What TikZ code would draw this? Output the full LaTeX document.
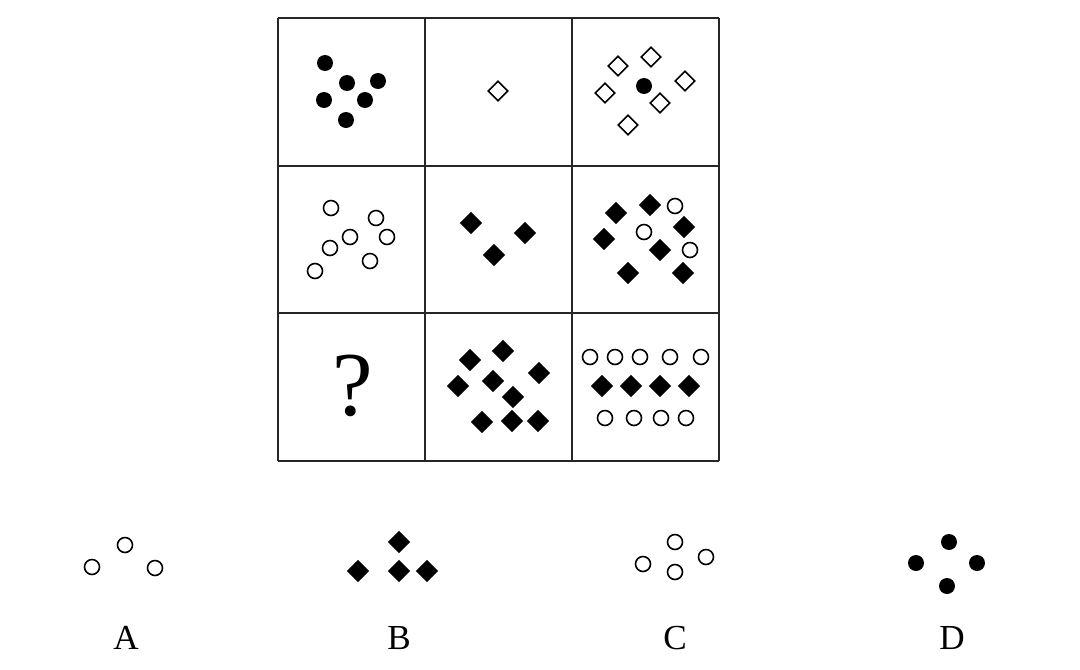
\documentclass[tikz,border=0pt]{standalone}
\usepackage{fontspec}
\setmainfont{Liberation Serif}
\usetikzlibrary{shapes.geometric}

\tikzset{
  dot/.style={circle,fill=black,inner sep=0pt,minimum size=0.32cm},
  ring/.style={circle,draw=black,line width=0.9pt,inner sep=0pt,minimum size=0.3cm},
  blk/.style={diamond,fill=black,inner sep=0pt,minimum size=0.45cm},
  hollow/.style={diamond,draw=black,line width=0.9pt,inner sep=0pt,minimum size=0.4cm},
  choice/.style={font=\fontsize{20}{20}\selectfont}
}

\begin{document}
\begin{tikzpicture}[x=0.02cm,y=-0.02cm]
\useasboundingbox (0,0) rectangle (1080,670);
% the 3x3 board
\foreach \x in {278,425,572,719} \draw[line width=1.1pt,black!85] (\x,18) -- (\x,461);
\foreach \y in {18,166,313,461} \draw[line width=1.1pt,black!85] (278,\y) -- (719,\y);

% row 1
\foreach \p [count=\i] in {(325,63),(347,83),(378,81),(324,100),(365,100),(346,120)}
  \node[dot] (a\i) at \p {};
\node[hollow] (b1) at (498,91) {};
\foreach \p [count=\i] in {(618,66),(651,57),(685,81),(605,93),(660,103),(628,125)}
  \node[hollow] (c\i) at \p {};
\node[dot] (c0) at (644,86) {};

% row 2
\foreach \p [count=\i] in {(331,208),(376,218),(350,237),(387,237),(330,248),(370,261),(315,271)}
  \node[ring] (d\i) at \p {};
\foreach \p [count=\i] in {(471,223),(525,233),(494,255)}
  \node[blk] (e\i) at \p {};
\foreach \p [count=\i] in {(616,213),(650,205),(684,227),(604,239),(660,250),(628,273),(683,273)}
  \node[blk] (f\i) at \p {};
\foreach \p [count=\i] in {(675,206),(644,232),(690,250)}
  \node[ring] (g\i) at \p {};

% row 3
\node[font=\fontsize{52}{52}\selectfont] (qm) at (353,386) {?};
\foreach \p [count=\i] in {(503,351),(470,360),(539,373),(458,386),(493,381),(513,397),(482,422),(512,421),(538,421)}
  \node[blk] (h\i) at \p {};
\foreach \x [count=\i] in {590,615,640,670,701}
  \node[ring] (k\i) at (\x,357) {};
\foreach \x [count=\i] in {602,631,660,689}
  \node[blk] (m\i) at (\x,386) {};
\foreach \x [count=\i] in {605,634,661,686}
  \node[ring] (n\i) at (\x,418) {};

% answer options
\foreach \p [count=\i] in {(92,567),(125,545),(155,568)}
  \node[ring] (oa\i) at \p {};
\foreach \p [count=\i] in {(399,542),(358,571),(399,571),(427,571)}
  \node[blk] (ob\i) at \p {};
\foreach \p [count=\i] in {(675,542),(643,564),(675,572),(706,557)}
  \node[ring] (oc\i) at \p {};
\foreach \p [count=\i] in {(949,542),(916,563),(977,563),(947,586)}
  \node[dot] (od\i) at \p {};

\node[choice] (la) at (126,638) {A};
\node[choice] (lb) at (399,638) {B};
\node[choice] (lc) at (675,638) {C};
\node[choice] (ld) at (952,638) {D};
\end{tikzpicture}
\end{document}
